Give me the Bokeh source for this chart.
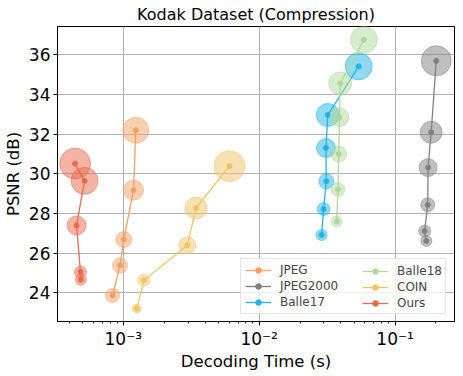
from bokeh.plotting import figure
from bokeh.models import Range1d, FixedTicker, Legend, LegendItem, ColumnDataSource
from bokeh.embed import file_html
from bokeh.resources import INLINE

# Decoding time (s), PSNR (dB), marker diameter (bpp-proportional)
jpeg_t = [1.236e-3, 1.19e-3, 1.009e-3, 9.47e-4, 8.33e-4]
jpeg_psnr = [32.2, 29.18, 26.69, 25.38, 23.87]
jpeg_size = [26, 20, 16, 15, 14]

jp2k_t = [0.201, 0.1845, 0.175, 0.174, 0.165, 0.170]
jp2k_psnr = [35.7, 32.1, 30.32, 28.44, 27.12, 26.62]
jp2k_size = [30, 22, 18, 14, 12, 11]

b17_t = [0.054, 0.032, 0.031, 0.0312, 0.0298, 0.0288]
b17_psnr = [35.42, 32.97, 31.31, 29.63, 28.23, 26.92]
b17_size = [27, 23, 19, 15, 13, 11]

b18_t = [0.059, 0.0395, 0.0389, 0.0385, 0.038, 0.0372]
b18_psnr = [36.76, 34.56, 32.86, 31.0, 29.21, 27.61]
b18_size = [27, 23, 19, 16, 14, 11]

coin_t = [6.04e-3, 3.43e-3, 2.96e-3, 1.42e-3, 1.26e-3]
coin_psnr = [30.39, 28.28, 26.4, 24.64, 23.21]
coin_size = [31, 22, 17, 12, 9]

ours_t = [4.42e-4, 5.19e-4, 4.53e-4, 4.84e-4, 4.87e-4]
ours_psnr = [30.52, 29.65, 27.4, 25.06, 24.67]
ours_size = [31, 27, 19, 12, 11]

y_ticks = [24, 26, 28, 30, 32, 34, 36]
x_ticks = [1e-3, 1e-2, 1e-1]
x_tick_labels = ["10\u207b\u00b3", "10\u207b\u00b2", "10\u207b\u00b9"]
x_minor = [m * 10.0 ** e for e in (-4, -3, -2, -1) for m in range(2, 10)]

series = [
    ("JPEG", jpeg_t, jpeg_psnr, jpeg_size, "#f4a064"),
    ("JPEG2000", jp2k_t, jp2k_psnr, jp2k_size, "#808080"),
    ("Balle17", b17_t, b17_psnr, b17_size, "#1fb3e6"),
    ("Balle18", b18_t, b18_psnr, b18_size, "#b0d89c"),
    ("COIN", coin_t, coin_psnr, coin_size, "#f0c466"),
    ("Ours", ours_t, ours_psnr, ours_size, "#e8694c"),
]

p = figure(frame_width=397, frame_height=295, x_axis_type="log",
           x_range=Range1d(10 ** -3.484, 10 ** -0.5625),
           y_range=Range1d(22.56, 37.43),
           output_backend="svg", toolbar_location=None,
           title="Kodak Dataset (Compression)",
           min_border_left=50, min_border_right=1, min_border_top=19, min_border_bottom=46)

p.title.align = "center"
p.title.text_font = "DejaVu Sans"
p.title.text_font_size = "16px"
p.title.text_font_style = "normal"
p.title.text_color = "#000000"
p.title.standoff = 5

p.outline_line_color = "#000000"
p.outline_line_width = 1

for ax in (p.xaxis[0], p.yaxis[0]):
    ax.major_label_text_font = "DejaVu Sans"
    ax.major_label_text_font_size = "17px"
    ax.major_label_text_color = "#000000"
    ax.axis_label_text_font = "DejaVu Sans"
    ax.axis_label_text_font_size = "16.5px"
    ax.axis_label_text_font_style = "normal"
    ax.axis_label_text_color = "#000000"
    ax.major_tick_out = 4
    ax.major_tick_in = 0
    ax.minor_tick_out = 2
    ax.minor_tick_in = 0
    ax.major_label_standoff = 3
    ax.axis_label_standoff = 3
    ax.axis_line_color = "#000000"
    ax.major_tick_line_color = "#000000"
    ax.minor_tick_line_color = "#000000"

p.xaxis.axis_label = "Decoding Time (s)"
p.xaxis.ticker = FixedTicker(ticks=x_ticks, minor_ticks=x_minor)
p.xaxis.major_label_overrides = dict(zip(x_ticks, x_tick_labels))
p.xaxis.major_label_standoff = 3
p.xaxis.axis_label_standoff = 0
p.yaxis.axis_label = "PSNR (dB)"
p.yaxis.ticker = FixedTicker(ticks=y_ticks)
p.yaxis.minor_tick_line_color = None

p.grid.grid_line_color = "#b0b0b0"
p.grid.grid_line_width = 1
p.xgrid.ticker = FixedTicker(ticks=x_ticks)
p.ygrid.ticker = FixedTicker(ticks=y_ticks)

items = []
for name, t, ps, sz, col in series:
    src = ColumnDataSource(dict(t=t, psnr=ps, size=sz))
    p.scatter("t", "psnr", size="size", source=src, fill_color=col, fill_alpha=0.5,
              line_color=col, line_alpha=0.5, line_width=1)
    lr = p.line("t", "psnr", source=src, line_color=col, line_width=1.3)
    dr = p.scatter("t", "psnr", source=src, size=5, fill_color=col, line_color=col)
    items.append(LegendItem(label=name, renderers=[lr, dr]))

common = dict(label_text_font="DejaVu Sans", label_text_font_size="12px",
              glyph_width=26, glyph_height=14, label_height=14, spacing=2,
              padding=4, margin=0, label_standoff=9, border_line_width=1)
legend1 = Legend(items=items[:3], location=(183, 7), label_width=161,
                 border_line_color="#cccccc",
                 background_fill_alpha=0.8, **common)
legend2 = Legend(items=items[3:], location=(301, 7), label_width=40,
                 border_line_color="#cccccc", border_line_alpha=0.0,
                 background_fill_alpha=0.0, **common)
p.add_layout(legend1)
p.add_layout(legend2)

open("out.html", "w").write(file_html(p, INLINE))
